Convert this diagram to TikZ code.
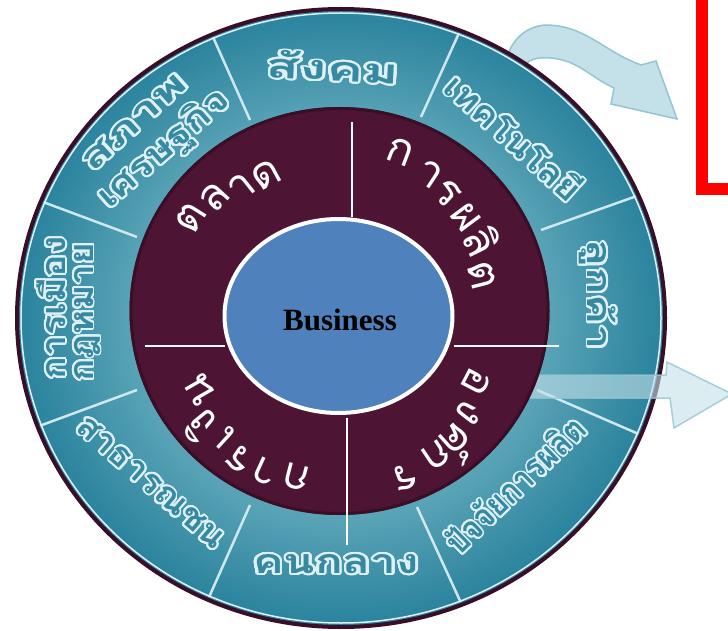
\documentclass[tikz,border=0pt]{standalone}
\usepackage{fontspec}
\usepackage{graphicx}
\setmainfont{Liberation Serif}
\newfontfamily\thaifont[Script=Thai]{Loma}
\usepackage{contour}
\contourlength{1.8pt}
\contournumber{32}
\usetikzlibrary{calc}
\definecolor{maroon}{HTML}{4D1533}
\definecolor{maroonedge}{HTML}{3A0E26}
\definecolor{bizblue}{HTML}{4F81BD}
\definecolor{teallight}{HTML}{5BA4B7}
\definecolor{tealdark}{HTML}{2A839D}
\definecolor{tealtext}{HTML}{3789A2}
\definecolor{rim}{HTML}{DDF1F6}
\definecolor{sepcol}{HTML}{CFE7EE}
\definecolor{arrowfill}{HTML}{C4E1E9}
\definecolor{arrowedge}{HTML}{93C5D3}
\definecolor{redbox}{HTML}{FF0000}
\newlength\fitlen
\newcommand\fitx[2]{\settowidth\fitlen{#2}\pgfmathsetmacro\fitsc{#1/\fitlen}\scalebox{\fitsc}[1]{#2}}
\newcommand\olbl[2]{\fitx{#1}{\contour{rim}{#2}}}
\tikzset{
  sepline/.style={sepcol, line width=2.5},
  divline/.style={white, line width=2.2},
  inl/.style={font=\thaifont\fontsize{44}{44}\selectfont, text=white, inner sep=0pt},
  outl/.style={font=\thaifont\bfseries\fontsize{34}{36}\selectfont, text=tealtext, inner sep=0pt},
  arrowshape/.style={fill=arrowfill, draw=arrowedge, line width=1.5},
}
\begin{document}
\begin{tikzpicture}[x=1pt,y=1pt]
\useasboundingbox (0,0) rectangle (728,630);
\clip (0,0) rectangle (728,630);
\coordinate (O) at (341,312);
\coordinate (M) at (339.5,319);
\coordinate (B) at (338.5,314);

% curved arrow (behind the ring)
\path[arrowshape] (505,565) to[out=80,in=185] (545,605) to[out=0,in=160] (641,565)
  -- (656,569) -- (677,511) -- (611,526) -- (614,542)
  to[out=155,in=-5] (551,572) to[out=175,in=70] (522,560) -- cycle;

% outer ring: stepped radial gradient
\foreach \i in {0,...,30}{
  \pgfmathsetmacro\t{\i/30}
  \pgfmathsetmacro\pc{100-100*\t}
  \fill[tealdark!\pc!teallight] (O) ellipse [x radius={324-118*\t}, y radius={309-110*\t}];
}
\begin{scope}
  \clip (O) ellipse [x radius=321, y radius=306];
  \foreach \ax/\ay/\bx/\by in {250/510/213/593, 421/513/459/597, 541/400/634/433,
      537/240/634/198, 417/123/456/38, 250/125/210/35, 137/240/42/205, 137/393/43/428}
    \draw[sepline] (\ax,\ay) -- ($(\ax,\ay)!1.4!(\bx,\by)$);
\end{scope}
\draw[rim, line width=1.5] (O) ellipse [x radius=320, y radius=305];
\draw[maroonedge, line width=4] (O) ellipse [x radius=324, y radius=309];

% outer labels
\node[outl, rotate=-3] (soc) at (333,562) {\olbl{133}{สังคม}};
\node[outl, rotate=-42] (tech) at (514,493) {\olbl{170}{เทคโนโลยี}};
\node[outl, rotate=-90] (cust) at (597,335) {\olbl{110}{ลูกค้า}};
\node[outl, rotate=44] (fact) at (515,145) {\olbl{180}{ปัจจัยการผลิต}};
\node[outl] (mid) at (336,65) {\olbl{166}{คนกลาง}};
\node[outl, rotate=-41] (pub) at (150,147) {\olbl{185}{สาธารณชน}};
\node[outl, rotate=90] (pol) at (52,322) {\olbl{143}{การเมือง}};
\node[outl, rotate=90] (law) at (88,318) {\olbl{139}{กฎหมาย}};
\node[outl, rotate=42] (eco1) at (135,507) {\olbl{130}{สภาพ}};
\node[outl, rotate=41] (eco2) at (165,480) {\olbl{163}{เศรษฐกิจ}};

% right arrow over the ring
\path[arrowshape, fill opacity=0.6, draw opacity=0.8] (530,255) -- (666,255) -- (667,268) -- (732,236)
  -- (674,202) -- (670,232) -- (530,232) -- cycle;

% maroon ring
\fill[maroon] (M) ellipse [x radius=210, y radius=204];
\draw[maroonedge, line width=3] (M) ellipse [x radius=208.5, y radius=202.5];
\draw[divline] (352,508) -- (352,413);
\draw[divline] (145,284) -- (225,284);
\draw[divline] (454,284) -- (559,284);
\draw[divline] (347,212) -- (347,85);

% centre
\draw[white, line width=4, fill=bizblue] (B) ellipse [x radius=114, y radius=97];
\node[font=\bfseries\fontsize{31}{31}\selectfont, inner sep=0pt] (biz) at (340,310) {Business};

% inner ring letters
\foreach \x/\y/\r/\c in {400/478/-20.8/ก, 430/456/-33.4/า, 447/437/-42.3/ร, 466/413/-53.4/ผ, 482/389/-63.8/ลิ, 482/355/-75.8/ต,
    191/412/57.9/ต, 215/433/47.5/ล, 241/443/38.5/า, 266/455/28.4/ด,
    476/248/-117.5/อ, 470/217/-128/ง, 459/186/-138.1/ค์, 436/175/-146.2/ก, 405/153/-158.5/ร,
    296/153/165.3/ก, 265/158/155.2/า, 240/171/146.1/ร, 225/193/137.7/เ, 200/205/129.3/งิ, 200/239/119.8/น}
  \node[inl, rotate=\r] at (\x,\y) {\c};

% red frame
\draw[redbox, line width=12] (701.5,440.5) rectangle (800,700);
\end{tikzpicture}
\end{document}
